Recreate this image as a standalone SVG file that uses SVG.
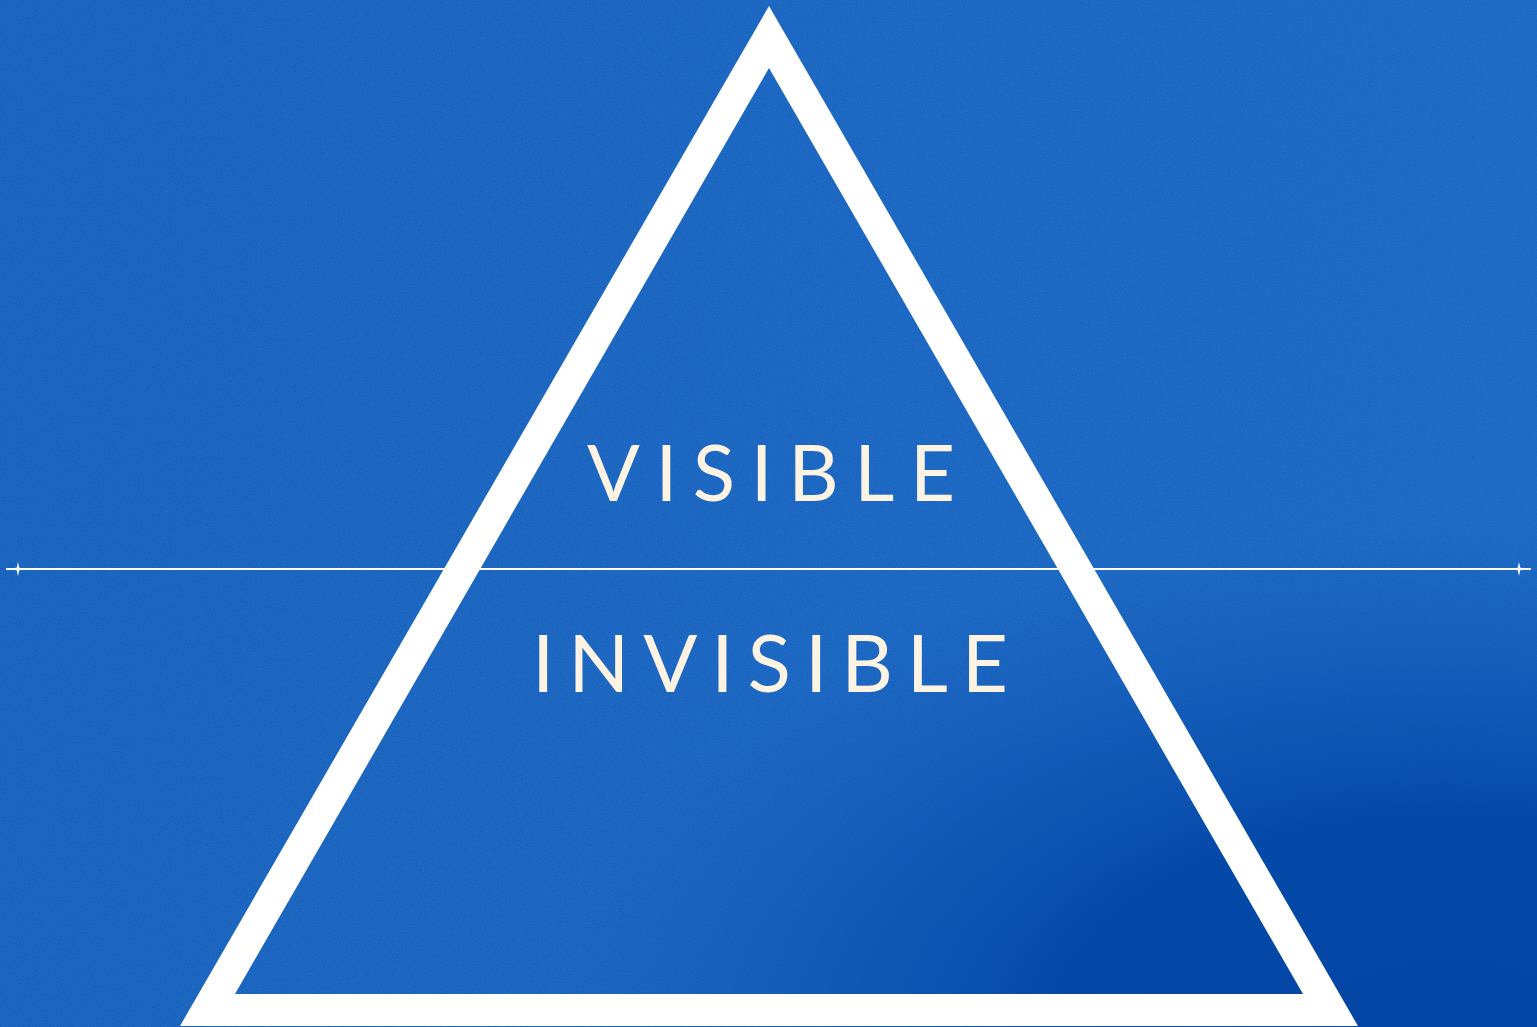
<svg xmlns="http://www.w3.org/2000/svg" width="1537" height="1027" viewBox="0 0 1537 1027">
<defs>
<linearGradient id="bg" x1="0" y1="0" x2="1537" y2="0" gradientUnits="userSpaceOnUse">
<stop offset="0" stop-color="#135cba"/>
<stop offset="1" stop-color="#1662c0"/>
</linearGradient>
<radialGradient id="dark" cx="1450" cy="1040" r="820" fx="1450" fy="1040" gradientUnits="userSpaceOnUse" gradientTransform="translate(1450 1040) scale(1.1 0.62) translate(-1450 -1040)">
<stop offset="0" stop-color="#0244a3" stop-opacity="1"/>
<stop offset="0.45" stop-color="#0448a7" stop-opacity="0.95"/>
<stop offset="0.8" stop-color="#0a4fae" stop-opacity="0.35"/>
<stop offset="1" stop-color="#0a4fae" stop-opacity="0"/>
</radialGradient>
<filter id="noise" x="0" y="0" width="100%" height="100%">
<feTurbulence type="fractalNoise" baseFrequency="0.8" numOctaves="2" seed="3"/>
<feColorMatrix values="0 0 0 0 0.12  0 0 0 0 0.42  0 0 0 0 0.82  0 0 0 0.22 0"/>
</filter>
<style>
.lbl{font-family:Lato,"Liberation Sans",sans-serif;fill:#fdf3e3;font-weight:400}
</style>
</defs>
<rect width="1537" height="1027" fill="url(#bg)"/>
<rect width="1537" height="1027" filter="url(#noise)"/>
<rect width="1537" height="1027" fill="url(#dark)"/>
<g id="connectors">
<line x1="6" y1="569" x2="1531" y2="569" stroke="#ffffff" stroke-width="2"/>
<path d="M18 562 L19.3 567.7 L28 569 L19.3 570.3 L18 576 L16.7 570.3 L6 569 L16.7 567.7 Z" fill="#ffffff"/>
<path d="M1519 562 L1520.3 567.7 L1531 569 L1520.3 570.3 L1519 576 L1517.7 570.3 L1509 569 L1517.7 567.7 Z" fill="#ffffff"/>
</g>
<g id="triangle">
<path d="M769 6 L1358 1026 L180 1026 Z M769 68 L235 994 L1303 994 Z" fill="#ffffff" fill-rule="evenodd"/>
</g>
<g id="visible">
<text class="lbl" x="587" y="501" font-size="78" textLength="368" lengthAdjust="spacing">VISIBLE</text>
</g>
<g id="invisible">
<text class="lbl" x="532" y="692" font-size="80" textLength="476" lengthAdjust="spacing">INVISIBLE</text>
</g>
</svg>
